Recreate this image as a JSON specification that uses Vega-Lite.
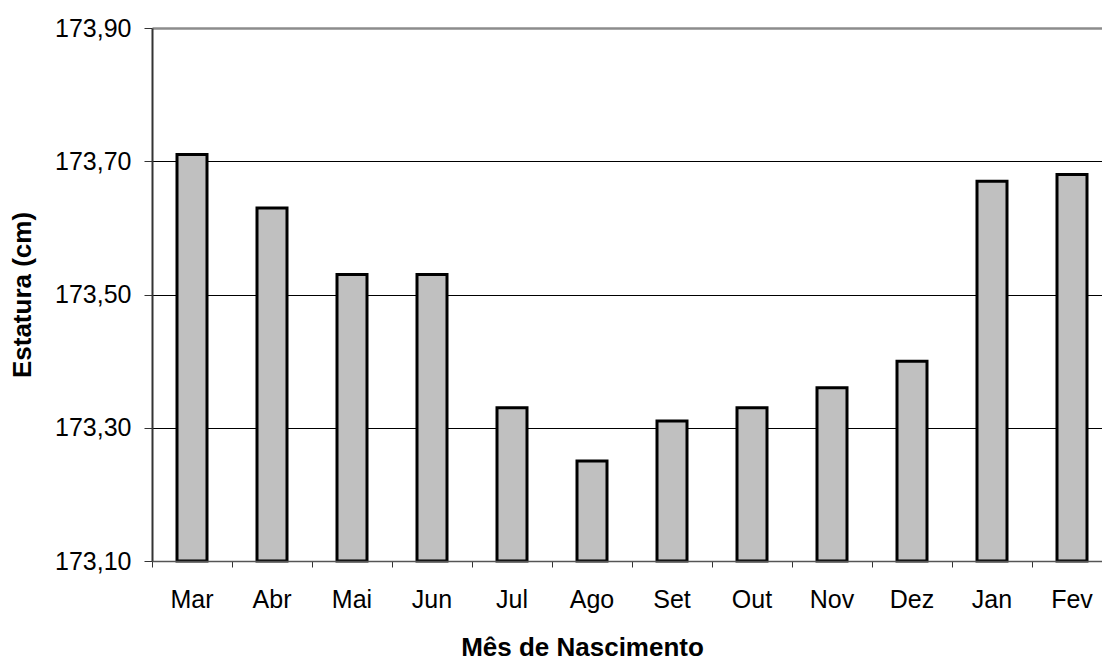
{
  "$schema": "https://vega.github.io/schema/vega-lite/v6.json",
  "autosize": "none",
  "width": 960,
  "height": 533,
  "padding": {"left": 152, "top": 28, "right": 0, "bottom": 98},
  "background": "white",
  "config": {
    "view": {"stroke": null},
    "font": "Liberation Sans"
  },
  "data": {
    "values": [
      {"mes": "Mar", "estatura": 173.71},
      {"mes": "Abr", "estatura": 173.63},
      {"mes": "Mai", "estatura": 173.53},
      {"mes": "Jun", "estatura": 173.53},
      {"mes": "Jul", "estatura": 173.33},
      {"mes": "Ago", "estatura": 173.25},
      {"mes": "Set", "estatura": 173.31},
      {"mes": "Out", "estatura": 173.33},
      {"mes": "Nov", "estatura": 173.36},
      {"mes": "Dez", "estatura": 173.40},
      {"mes": "Jan", "estatura": 173.67},
      {"mes": "Fev", "estatura": 173.68}
    ]
  },
  "mark": {"type": "bar", "fill": "#c0c0c0", "stroke": "black", "strokeWidth": 3, "size": 30},
  "encoding": {
    "x": {
      "field": "mes",
      "type": "nominal",
      "sort": null,
      "scale": {"paddingInner": 0, "paddingOuter": 0},
      "axis": {
        "title": "Mês de Nascimento",
        "titleFont": "Liberation Sans",
        "titleFontSize": 26,
        "titleFontWeight": "bold",
        "titleColor": "black",
        "titlePadding": 22,
        "titleX": 430,
        "titleAlign": "center",
        "labelFont": "Liberation Sans",
        "labelFontSize": 25,
        "labelColor": "black",
        "labelAngle": 0,
        "labelPadding": 20,
        "tickSize": 6,
        "tickColor": "#333333",
        "bandPosition": 0,
        "domainColor": "#555555",
        "domainWidth": 1.5,
        "grid": false,
        "zindex": 1
      }
    },
    "y": {
      "field": "estatura",
      "type": "quantitative",
      "scale": {"domain": [173.1, 173.9], "zero": false, "nice": false},
      "axis": {
        "title": "Estatura (cm)",
        "titleFont": "Liberation Sans",
        "titleFontSize": 26,
        "titleFontWeight": "bold",
        "titleColor": "black",
        "titlePadding": 19,
        "labelFont": "Liberation Sans",
        "labelFontSize": 25,
        "labelColor": "black",
        "labelPadding": 13,
        "values": [173.1, 173.3, 173.5, 173.7, 173.9],
        "labelExpr": "replace(format(datum.value, '.2f'), '.', ',')",
        "tickSize": 8,
        "tickColor": "#333333",
        "domainColor": "#333333",
        "domainWidth": 2,
        "grid": true,
        "gridColor": {"condition": {"test": "datum.value > 173.85", "value": "#8c8c8c"}, "value": "black"},
        "gridWidth": {"condition": {"test": "datum.value > 173.85", "value": 2.5}, "value": 1}
      }
    },
    "y2": {"datum": 173.1}
  }
}
